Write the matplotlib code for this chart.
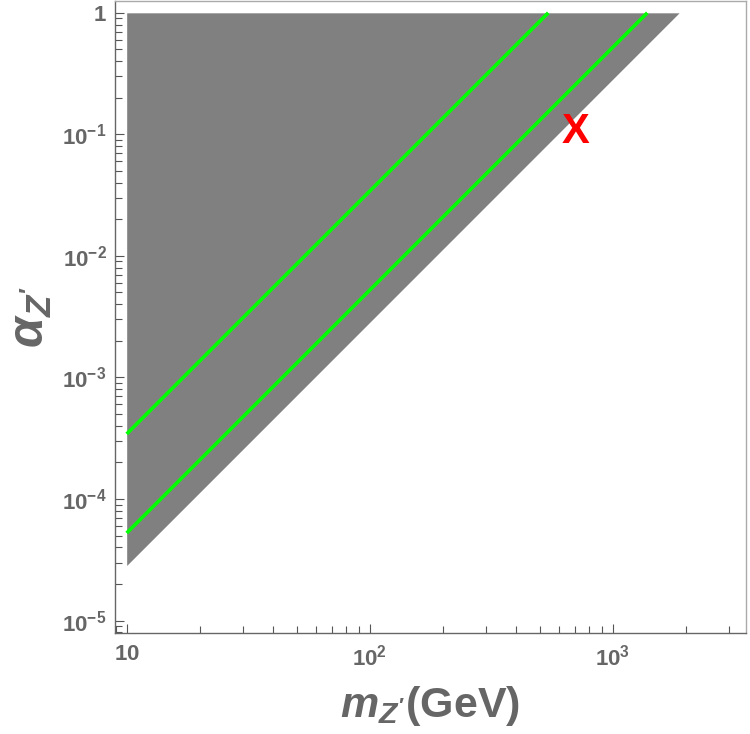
import matplotlib
matplotlib.use('Agg')
import matplotlib.pyplot as plt
from matplotlib.ticker import LogLocator, FixedLocator, NullFormatter

# excluded region: lower edge alpha ~ m^2, closed at alpha = 1
edge_mass = [10, 1876]
edge_alpha = [2.84e-5, 1.0]

# green lines
line1_mass = [10, 543]
line1_alpha = [3.43e-4, 1.0]
line2_mass = [10, 1388]
line2_alpha = [5.25e-5, 1.0]

# red marker
x_mass = 700
x_alpha = 0.105

xticks = [10, 100, 1000]
xlabels = ['$10$', '$10^2$', '$10^3$']
yticks = [1e-5, 1e-4, 1e-3, 1e-2, 1e-1, 1]
ylabels = ['$10^{-5}$', '$10^{-4}$', '$10^{-3}$', '$10^{-2}$', '$10^{-1}$', '$1$']

plt.rcParams['font.family'] = ['Liberation Sans', 'DejaVu Sans']
plt.rcParams['mathtext.fontset'] = 'custom'
plt.rcParams['mathtext.rm'] = 'Liberation Sans:bold'
plt.rcParams['mathtext.it'] = 'Liberation Sans:italic:bold'
plt.rcParams['mathtext.bf'] = 'Liberation Sans:bold'

grey_text = '#666666'

fig = plt.figure(figsize=(7.5, 7.34), dpi=100)
ax = fig.add_axes([0.1533, 0.1376, 0.8410, 0.861])

ax.fill_between(edge_mass, edge_alpha, [1.0, 1.0], color='#808080', linewidth=0)
ax.plot(line1_mass, line1_alpha, color='#00ff00', lw=2.6, solid_capstyle='butt')
ax.plot(line2_mass, line2_alpha, color='#00ff00', lw=2.6, solid_capstyle='butt')
ax.text(x_mass, x_alpha, 'X', color='red', fontsize=30, fontweight='bold',
        ha='center', va='center')

ax.set_xscale('log')
ax.set_yscale('log')
ax.set_xlim(8.95, 3527)
ax.set_ylim(7.9e-6, 1.25)

ax.xaxis.set_major_locator(FixedLocator(xticks))
ax.set_xticklabels(xlabels)
ax.yaxis.set_major_locator(FixedLocator(yticks))
ax.set_yticklabels(ylabels)
ax.xaxis.set_minor_locator(LogLocator(base=10, subs=range(2, 10), numticks=20))
ax.yaxis.set_minor_locator(LogLocator(base=10, subs=range(2, 10), numticks=20))
ax.xaxis.set_minor_formatter(NullFormatter())
ax.yaxis.set_minor_formatter(NullFormatter())

ax.tick_params(which='both', direction='in', colors='#555555', labelcolor=grey_text,
               top=False, right=False, width=0.8, labelsize=16)
ax.tick_params(which='major', length=6.5)
ax.tick_params(which='minor', length=5)
ax.tick_params(axis='x', pad=8)
ax.tick_params(axis='y', pad=6)

for side in ['left', 'bottom']:
    ax.spines[side].set_color('#666666')
for side in ['top', 'right']:
    ax.spines[side].set_color('#aaaaaa')
for s in ax.spines.values():
    s.set_linewidth(1.0)

ax.set_xlabel("$m_{Z'}$(GeV)", fontsize=31, fontweight='bold', color=grey_text, labelpad=10)
ax.set_ylabel(r"$\alpha_{Z'}$", fontsize=36, color=grey_text, labelpad=6)

fig.savefig('out.png', dpi=100)
